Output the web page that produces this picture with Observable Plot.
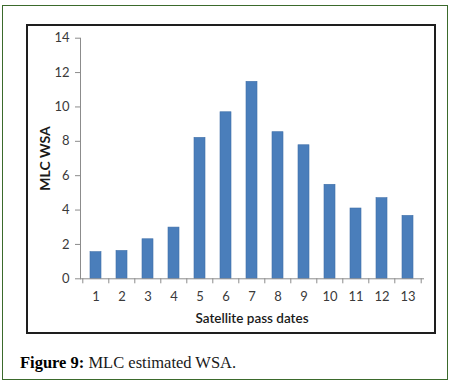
<!DOCTYPE html>
<html>
<head>
<meta charset="utf-8">
<script src="https://cdn.jsdelivr.net/npm/d3@7"></script>
<script src="https://cdn.jsdelivr.net/npm/@observablehq/plot@0.6"></script>
<style>
  html, body { margin: 0; padding: 0; background: #fff; width: 453px; height: 386px; overflow: hidden; }
  #outer { position: absolute; left: 2px; top: 5px; width: 446px; height: 375px; box-sizing: border-box; border: 1.5px solid #3b6a2c; }
  #frame { position: absolute; left: 26px; top: 24px; width: 410px; height: 310px; box-sizing: border-box; border: 2px solid #1e1e1e; background: #fff; }
  #chart { position: absolute; left: 0; top: 0; }
  #caption { position: absolute; left: 20px; top: 354px; font-family: "Liberation Serif", serif; font-size: 16.5px; line-height: 18px; color: #1a1a1a; white-space: nowrap; }
  #caption b { color: #000; }
</style>
</head>
<body>
<div id="outer"></div>
<div id="frame"><div id="chart"></div></div>
<div id="caption"><b>Figure 9:</b> MLC estimated WSA.</div>
<script>
const dates = [1, 2, 3, 4, 5, 6, 7, 8, 9, 10, 11, 12, 13];
const wsa = [1.55, 1.62, 2.30, 2.98, 8.20, 9.69, 11.46, 8.53, 7.77, 5.47, 4.09, 4.69, 3.66];
const yTicks = [0, 2, 4, 6, 8, 10, 12, 14];
const xLabel = "Satellite pass dates";
const yLabel = "MLC WSA";

const data = dates.map((d, i) => ({date: d, value: wsa[i]}));

const W = 406, H = 306;
const mL = 52, mR = 11, mT = 11.7, mB = 53.7;
const step = (W - mL - mR) / dates.length;
const font = "Lato, 'Open Sans', sans-serif";

const plot = Plot.plot({
  width: W,
  height: H,
  marginLeft: mL,
  marginRight: mR,
  marginTop: mT,
  marginBottom: mB,
  style: {fontFamily: font, fontSize: "13px", color: "#3a3a3a", background: "transparent"},
  x: {type: "band", domain: dates, paddingInner: 0.56, paddingOuter: 0.28, align: 0.5},
  y: {domain: [0, 14]},
  marks: [
    Plot.barY(data, {x: "date", y: "value", fill: "#4a7ebb", stroke: "#3f6fa8", strokeWidth: 0.6}),
    Plot.axisY(yTicks, {
      anchor: "left", tickSize: 5, tickPadding: 6, stroke: "#8c8c8c",
      fill: "#3a3a3a", fontSize: 13,
      label: yLabel, labelAnchor: "center", labelArrow: "none", labelOffset: 40
    }),
    Plot.axisX(dates, {
      anchor: "bottom", tickSize: 0, tickPadding: 13, fill: "#3a3a3a", fontSize: 13,
      label: xLabel, labelAnchor: "center", labelArrow: "none", labelOffset: 44
    }),
    Plot.axisX(dates, {anchor: "bottom", tickSize: 5, text: null, label: null, stroke: "#8c8c8c", dx: -step / 2}),
    Plot.axisX(dates.slice(-1), {anchor: "bottom", tickSize: 5, text: null, label: null, stroke: "#8c8c8c", dx: step / 2}),
    Plot.frame({anchor: "left", stroke: "#8c8c8c"}),
    Plot.frame({anchor: "bottom", stroke: "#8c8c8c"})
  ]
});

// style axis labels
plot.querySelectorAll("g[aria-label='y-axis label'] text, g[aria-label='x-axis label'] text").forEach(t => {
  t.setAttribute("fill", "#1a1a1a");
});
const yl = plot.querySelector("g[aria-label='y-axis label']");
if (yl) { yl.setAttribute("font-weight", "bold"); yl.setAttribute("font-size", "14"); }
const xl = plot.querySelector("g[aria-label='x-axis label']");
if (xl) { xl.setAttribute("font-size", "13.5"); xl.setAttribute("font-weight", "600"); }

document.getElementById("chart").appendChild(plot);
</script>
</body>
</html>
